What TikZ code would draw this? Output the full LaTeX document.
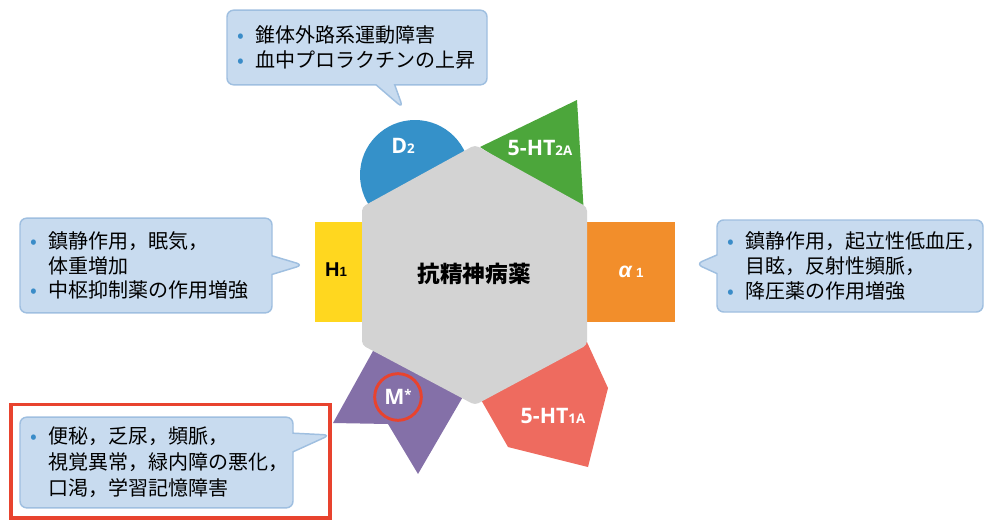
\documentclass[tikz,border=0pt]{standalone}
\usepackage{fontspec}
\setmainfont{Noto Sans CJK JP}
\newfontfamily\labfont{Open Sans}
\newfontfamily\arialfont{Liberation Sans}
\usetikzlibrary{shapes.callouts}

\definecolor{hexgray}{HTML}{D3D3D3}
\definecolor{dblue}{HTML}{3591C9}
\definecolor{hgreen}{HTML}{4CA63B}
\definecolor{hyellow}{HTML}{FFD71F}
\definecolor{aorange}{HTML}{F28E2B}
\definecolor{mpurple}{HTML}{8470A8}
\definecolor{hsalmon}{HTML}{EE6B5F}
\definecolor{notefill}{HTML}{C8DBEF}
\definecolor{noteedge}{HTML}{9FBFE0}
\definecolor{dotblue}{HTML}{3A8CC8}
\definecolor{markred}{HTML}{E8432E}

\newcommand{\bul}{\makebox[13.5pt][l]{\textcolor{dotblue}{•}}}
\newcommand{\ind}{\hspace*{13.5pt}}
\newcommand{\lowsub}[1]{{\fontsize{10}{10}\selectfont #1}}

\tikzset{
  note/.style={rectangle callout, draw=noteedge, fill=notefill, line width=1.1pt,
    rounded corners=5pt, inner xsep=8pt, inner ysep=0pt, align=left,
    callout pointer width=14pt, font=\fontsize{15}{18.5}\selectfont},
  rlab/.style={text=white, inner sep=0pt, font=\labfont\bfseries\fontsize{16}{16}\selectfont},
}

\begin{document}
\begin{tikzpicture}[x=0.75pt,y=-0.75pt]
\useasboundingbox (0,0) rectangle (984,521);

% callouts
\coordinate (d2tip) at (403,108);
\coordinate (h1tip) at (303,265);
\coordinate (a1tip) at (696,264);
\coordinate (mtip) at (330,435);
\node[note, text width=179pt, minimum height=56pt, callout absolute pointer={(d2tip)}] (d2note) at (357,47.5)
  {\bul 錐体外路系運動障害\\ \bul 血中プロラクチンの上昇};
\node[note, text width=173pt, minimum height=71pt, callout absolute pointer={(h1tip)}] (h1note) at (146,265.5)
  {\bul 鎮静作用，眠気，\\ \ind 体重増加\\ \bul 中枢抑制薬の作用増強};
\node[note, text width=183.5pt, minimum height=69pt, callout absolute pointer={(a1tip)}] (a1note) at (850,266)
  {\bul 鎮静作用，起立性低血圧，\\ \ind 目眩，反射性頻脈，\\ \bul 降圧薬の作用増強};
\node[note, text width=188.75pt, minimum height=68pt, font=\fontsize{15}{19.5}\selectfont,
  callout absolute pointer={(mtip)}] (mnote) at (156.5,462.5)
  {\bul 便秘，乏尿，頻脈，\\ \ind 視覚異常，緑内障の悪化，\\ \ind 口渇，学習記憶障害};

% receptors
\fill[dblue] (415,175) circle (55);
\fill[hgreen] (480,147) -- (577,100) -- (584,215) -- cycle;
\fill[hyellow] (315,222) rectangle (400,322);
\fill[aorange] (550,222) rectangle (675,322);
\fill[mpurple] (378,342) -- (333,423) -- (388,424) -- (418,474) -- (468,388) -- cycle;
\fill[hsalmon] (480,398) -- (586,340) -- (608,388) -- (588,467) -- (508,447) -- cycle;

% drug
\fill[hexgray, rounded corners=3pt] (475,145) -- (587,207) -- (587,345) -- (475,405) -- (362,345) -- (362,207) -- cycle;
\node[font=\bfseries\fontsize{17}{17}\selectfont] (drug) at (474,274) {抗精神病薬};

% labels
\node[rlab] (d2lab) at (403,146) {D\lowsub{2}};
\node[rlab] (ht2alab) at (540,148) {5-HT\lowsub{2A}};
\node[inner sep=0pt, font=\arialfont\bfseries\fontsize{15}{15}\selectfont] (h1lab) at (336,270) {H\lowsub{1}};
\node[text=white, inner sep=0pt, font=\arialfont\bfseries\fontsize{16}{16}\selectfont] (a1lab) at (631,272) {\textit{α}\,\lowsub{1}};
\node[rlab, draw=markred, line width=2.2pt, circle, minimum size=35pt] (mlab) at (398,397) {M\raisebox{4pt}{\lowsub{*}}};
\node[rlab] (ht1alab) at (553,416) {5-HT\lowsub{1A}};

% highlight
\draw[markred, line width=2.6pt] (11,404.5) rectangle (330,518);
\end{tikzpicture}
\end{document}
